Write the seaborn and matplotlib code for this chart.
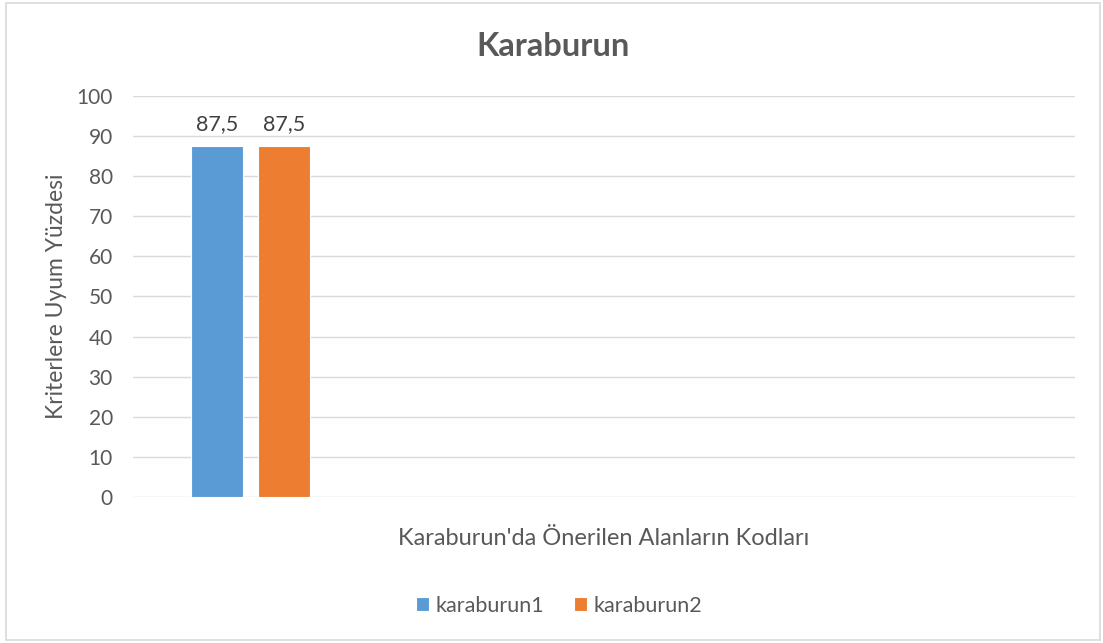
import matplotlib
matplotlib.use("Agg")
import matplotlib.pyplot as plt
import seaborn as sns
import pandas as pd
from matplotlib.patches import Rectangle

# Chart values
categories = ["Karaburun"]
series = ["karaburun1", "karaburun2"]
values = [87.5, 87.5]
y_ticks = [0, 10, 20, 30, 40, 50, 60, 70, 80, 90, 100]

title = "Karaburun"
x_label = "Karaburun'da Önerilen Alanların Kodları"
y_label = "Kriterlere Uyum Yüzdesi"

colors = ["#5B9BD5", "#ED7D31"]
text_gray = "#595959"

df = pd.DataFrame({
    "kategori": [categories[0]] * len(series),
    "seri": series,
    "deger": values,
})

sns.set_theme(style="white")
plt.rcParams["font.family"] = ["Lato", "DejaVu Sans"]

fig = plt.figure(figsize=(11.03, 6.43), dpi=100)
ax = fig.add_axes([0.1206, 0.2271, 0.854, 0.6236])

sns.barplot(data=df, x="kategori", y="deger", hue="seri", palette=colors,
            saturation=1, width=0.8, gap=0.23, dodge=True, ax=ax, legend=True,
            edgecolor="white", linewidth=0.8)

ax.set_xlim(-0.696, 4.886)
ax.set_ylim(0, 100)
ax.set_yticks(y_ticks)
ax.set_yticklabels([str(t) for t in y_ticks], color=text_gray, fontsize=15)
ax.set_xticks([])
ax.tick_params(axis="y", length=0, pad=14.5)

ax.yaxis.grid(True, color="#D9D9D9", linewidth=1)
ax.set_axisbelow(True)
for s in ax.spines.values():
    s.set_visible(False)

# value labels with decimal comma
for container in ax.containers:
    labels = [f"{v:g}".replace(".", ",") for v in container.datavalues]
    ax.bar_label(container, labels=labels, padding=9, fontsize=15.5, color="#404040")

ax.set_xlabel(x_label, fontsize=17, color=text_gray, labelpad=22)
ax.set_ylabel(y_label, fontsize=16.5, color=text_gray, labelpad=7)

fig.text(0.5015, 0.928, title, ha="center", va="center", fontsize=23.5,
         fontweight="bold", color=text_gray)

handles, labels = ax.get_legend_handles_labels()
ax.get_legend().remove()
fig.legend(handles, labels, loc="center", bbox_to_anchor=(0.507, 0.058), ncol=2,
           frameon=False, fontsize=15.5, labelcolor=text_gray,
           handlelength=0.6, handleheight=0.6, handletextpad=0.3, columnspacing=1.4)

# outer chart frame
fig.patches.append(Rectangle((6 / 1103, 3 / 643), 1094 / 1103, 637 / 643,
                             transform=fig.transFigure, fill=False,
                             edgecolor="#D9D9D9", linewidth=1.2))

fig.savefig("out.png", dpi=100)
